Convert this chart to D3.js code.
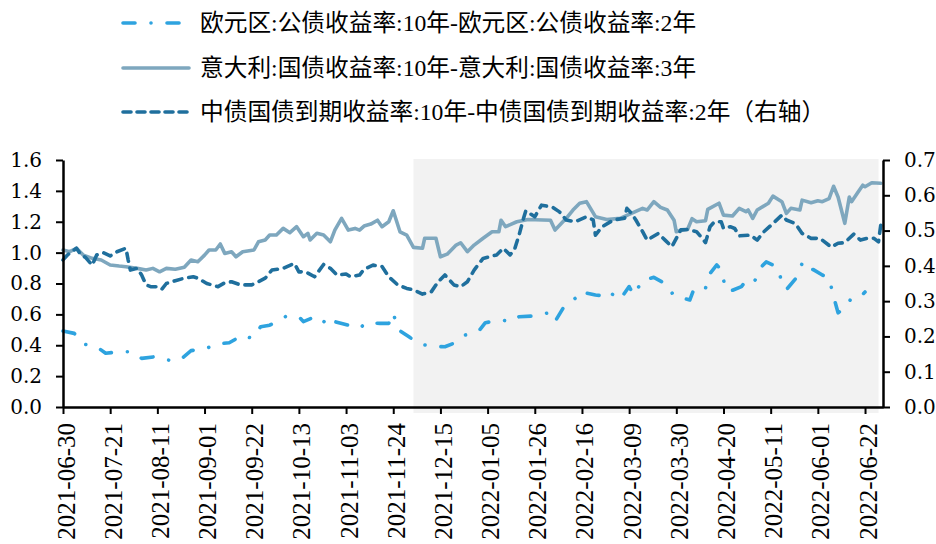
<!DOCTYPE html>
<html><head><meta charset="utf-8">
<script src="https://cdn.jsdelivr.net/npm/d3@7"></script>
<style>body{margin:0;background:#fff;} svg{display:block;}</style>
</head><body>
<svg id="chart" width="936" height="544"></svg>
<script>
// ---------- data ----------
const seriesNames = [
  "欧元区:公债收益率:10年-欧元区:公债收益率:2年",
  "意大利:国债收益率:10年-意大利:国债收益率:3年",
  "中债国债到期收益率:10年-中债国债到期收益率:2年（右轴）"
];
const tickDates = ["2021-06-30","2021-07-21","2021-08-11","2021-09-01","2021-09-22","2021-10-13","2021-11-03","2021-11-24","2021-12-15","2022-01-05","2022-01-26","2022-02-16","2022-03-09","2022-03-30","2022-04-20","2022-05-11","2022-06-01","2022-06-22"];
const leftTicks = [0,0.2,0.4,0.6,0.8,1.0,1.2,1.4,1.6];
const rightTicks = [0,0.1,0.2,0.3,0.4,0.5,0.6,0.7];
const dateDomain = ["2021-06-30","2022-06-30"];
const shadeRange = ["2021-12-03","2022-06-28"];

const euro = [["2021-06-30",0.492],["2021-07-05",0.477],["2021-07-09",0.408],["2021-07-15",0.39],["2021-07-19",0.348],["2021-07-25",0.358],["2021-07-31",0.358],["2021-08-04",0.315],["2021-08-10",0.326],["2021-08-17",0.30],["2021-08-21",0.304],["2021-08-26",0.365],["2021-09-02",0.38],["2021-09-06",0.408],["2021-09-12",0.416],["2021-09-18",0.466],["2021-09-22",0.445],["2021-09-26",0.52],["2021-09-30",0.53],["2021-10-07",0.585],["2021-10-13",0.585],["2021-10-15",0.553],["2021-10-21",0.59],["2021-10-27",0.52],["2021-10-29",0.553],["2021-11-04",0.53],["2021-11-09",0.51],["2021-11-12",0.546],["2021-11-18",0.542],["2021-11-22",0.542],["2021-11-24",0.61],["2021-11-26",0.503],["2021-12-01",0.455],["2021-12-05",0.413],["2021-12-10",0.395],["2021-12-17",0.39],["2021-12-21",0.413],["2021-12-26",0.466],["2022-01-01",0.49],["2022-01-04",0.546],["2022-01-11",0.563],["2022-01-16",0.553],["2022-01-19",0.585],["2022-01-26",0.59],["2022-02-01",0.61],["2022-02-04",0.553],["2022-02-08",0.65],["2022-02-13",0.704],["2022-02-15",0.747],["2022-02-22",0.725],["2022-02-26",0.72],["2022-02-28",0.747],["2022-03-03",0.715],["2022-03-05",0.697],["2022-03-09",0.78],["2022-03-11",0.725],["2022-03-15",0.82],["2022-03-20",0.84],["2022-03-25",0.80],["2022-03-29",0.72],["2022-04-05",0.693],["2022-04-07",0.77],["2022-04-12",0.77],["2022-04-14",0.865],["2022-04-17",0.92],["2022-04-19",0.89],["2022-04-21",0.76],["2022-04-23",0.75],["2022-04-28",0.78],["2022-05-01",0.835],["2022-05-04",0.82],["2022-05-07",0.91],["2022-05-09",0.94],["2022-05-14",0.905],["2022-05-16",0.81],["2022-05-18",0.76],["2022-05-22",0.83],["2022-05-25",0.93],["2022-05-26",0.89],["2022-05-30",0.89],["2022-06-03",0.855],["2022-06-06",0.835],["2022-06-08",0.715],["2022-06-10",0.61],["2022-06-13",0.645],["2022-06-16",0.705],["2022-06-20",0.715],["2022-06-22",0.745]];

const italy = [["2021-06-30",1.017],["2021-07-03",1.006],["2021-07-06",1.028],["2021-07-09",0.984],["2021-07-13",0.963],["2021-07-17",0.952],["2021-07-21",0.92],["2021-07-25",0.913],["2021-07-28",0.909],["2021-08-02",0.898],["2021-08-06",0.887],["2021-08-09",0.898],["2021-08-12",0.876],["2021-08-15",0.898],["2021-08-19",0.892],["2021-08-23",0.905],["2021-08-26",0.952],["2021-08-29",0.941],["2021-09-01",0.984],["2021-09-03",1.017],["2021-09-06",1.017],["2021-09-08",1.056],["2021-09-10",0.995],["2021-09-13",1.006],["2021-09-15",0.973],["2021-09-18",1.006],["2021-09-23",1.017],["2021-09-25",1.07],["2021-09-28",1.082],["2021-09-30",1.114],["2021-10-03",1.114],["2021-10-06",1.157],["2021-10-09",1.129],["2021-10-12",1.168],["2021-10-15",1.103],["2021-10-17",1.125],["2021-10-18",1.082],["2021-10-21",1.125],["2021-10-24",1.114],["2021-10-27",1.07],["2021-10-29",1.146],["2021-11-01",1.222],["2021-11-04",1.146],["2021-11-07",1.157],["2021-11-09",1.146],["2021-11-11",1.172],["2021-11-14",1.185],["2021-11-17",1.21],["2021-11-19",1.168],["2021-11-22",1.2],["2021-11-24",1.271],["2021-11-27",1.135],["2021-11-30",1.114],["2021-12-03",1.034],["2021-12-07",1.028],["2021-12-08",1.093],["2021-12-13",1.093],["2021-12-15",0.973],["2021-12-18",0.99],["2021-12-22",1.049],["2021-12-24",1.064],["2021-12-27",1.006],["2021-12-30",1.049],["2022-01-03",1.093],["2022-01-07",1.135],["2022-01-10",1.135],["2022-01-11",1.21],["2022-01-13",1.168],["2022-01-18",1.2],["2022-01-23",1.215],["2022-02-02",1.21],["2022-02-04",1.146],["2022-02-09",1.222],["2022-02-12",1.276],["2022-02-15",1.32],["2022-02-18",1.33],["2022-02-22",1.233],["2022-02-27",1.215],["2022-03-05",1.222],["2022-03-10",1.254],["2022-03-15",1.287],["2022-03-17",1.276],["2022-03-20",1.33],["2022-03-23",1.293],["2022-03-26",1.276],["2022-03-29",1.21],["2022-03-30",1.135],["2022-04-02",1.146],["2022-04-04",1.15],["2022-04-06",1.22],["2022-04-08",1.2],["2022-04-12",1.207],["2022-04-13",1.28],["2022-04-18",1.32],["2022-04-20",1.243],["2022-04-24",1.237],["2022-04-27",1.287],["2022-04-30",1.265],["2022-05-01",1.276],["2022-05-03",1.222],["2022-05-05",1.276],["2022-05-10",1.32],["2022-05-12",1.366],["2022-05-16",1.33],["2022-05-18",1.254],["2022-05-20",1.287],["2022-05-24",1.276],["2022-05-25",1.34],["2022-05-29",1.323],["2022-06-01",1.336],["2022-06-03",1.33],["2022-06-06",1.35],["2022-06-08",1.43],["2022-06-10",1.36],["2022-06-13",1.19],["2022-06-15",1.36],["2022-06-16",1.33],["2022-06-19",1.395],["2022-06-21",1.437],["2022-06-22",1.427],["2022-06-25",1.453],["2022-06-29",1.449]];

const china = [["2021-06-30",0.417],["2021-07-02",0.431],["2021-07-06",0.45],["2021-07-08",0.431],["2021-07-10",0.424],["2021-07-13",0.402],["2021-07-15",0.431],["2021-07-18",0.437],["2021-07-21",0.428],["2021-07-24",0.44],["2021-07-28",0.45],["2021-07-29",0.417],["2021-07-30",0.388],["2021-08-02",0.393],["2021-08-04",0.374],["2021-08-06",0.346],["2021-08-08",0.341],["2021-08-11",0.341],["2021-08-13",0.334],["2021-08-15",0.35],["2021-08-19",0.358],["2021-08-23",0.365],["2021-08-27",0.369],["2021-08-29",0.365],["2021-09-02",0.35],["2021-09-07",0.341],["2021-09-10",0.352],["2021-09-13",0.355],["2021-09-17",0.346],["2021-09-22",0.346],["2021-09-25",0.355],["2021-09-28",0.365],["2021-10-01",0.388],["2021-10-06",0.393],["2021-10-11",0.407],["2021-10-13",0.383],["2021-10-16",0.383],["2021-10-20",0.369],["2021-10-24",0.404],["2021-10-27",0.393],["2021-10-30",0.374],["2021-11-03",0.377],["2021-11-05",0.369],["2021-11-09",0.374],["2021-11-11",0.39],["2021-11-15",0.402],["2021-11-19",0.398],["2021-11-22",0.369],["2021-11-26",0.346],["2021-11-30",0.336],["2021-12-03",0.332],["2021-12-07",0.32],["2021-12-11",0.327],["2021-12-14",0.355],["2021-12-17",0.374],["2021-12-21",0.346],["2021-12-24",0.341],["2021-12-27",0.355],["2021-12-30",0.388],["2022-01-03",0.421],["2022-01-09",0.431],["2022-01-12",0.45],["2022-01-15",0.431],["2022-01-17",0.447],["2022-01-19",0.487],["2022-01-21",0.535],["2022-01-22",0.556],["2022-01-26",0.539],["2022-01-29",0.572],["2022-02-03",0.566],["2022-02-06",0.553],["2022-02-09",0.53],["2022-02-13",0.525],["2022-02-18",0.539],["2022-02-21",0.53],["2022-02-22",0.487],["2022-02-25",0.511],["2022-03-02",0.53],["2022-03-07",0.535],["2022-03-08",0.563],["2022-03-10",0.549],["2022-03-12",0.53],["2022-03-15",0.497],["2022-03-17",0.473],["2022-03-22",0.492],["2022-03-25",0.473],["2022-03-28",0.454],["2022-03-30",0.478],["2022-04-01",0.502],["2022-04-04",0.503],["2022-04-08",0.497],["2022-04-10",0.482],["2022-04-12",0.466],["2022-04-14",0.511],["2022-04-16",0.525],["2022-04-19",0.525],["2022-04-20",0.506],["2022-04-23",0.511],["2022-04-25",0.506],["2022-04-27",0.485],["2022-05-02",0.487],["2022-05-05",0.473],["2022-05-08",0.497],["2022-05-12",0.52],["2022-05-16",0.544],["2022-05-18",0.53],["2022-05-22",0.52],["2022-05-25",0.492],["2022-05-29",0.478],["2022-06-02",0.478],["2022-06-07",0.453],["2022-06-10",0.464],["2022-06-13",0.466],["2022-06-17",0.49],["2022-06-20",0.473],["2022-06-23",0.478],["2022-06-26",0.478],["2022-06-28",0.468],["2022-06-29",0.516]];

// ---------- drawing ----------
const parse = d3.utcParse("%Y-%m-%d");
const fmt = d3.utcFormat("%Y-%m-%d");
const svg = d3.select("#chart");
const M = {left: 63, right: 883, top: 160, bottom: 407};

const x = d3.scaleUtc().domain(dateDomain.map(parse)).range([M.left, M.right]);
const yL = d3.scaleLinear().domain([0, 1.6]).range([M.bottom, M.top]);
const yR = d3.scaleLinear().domain([0, 0.7]).range([M.bottom, M.top]);

// shaded period
svg.append("rect")
  .attr("x", x(parse(shadeRange[0])))
  .attr("y", yL(1.6) - 1)
  .attr("width", x(parse(shadeRange[1])) - x(parse(shadeRange[0])))
  .attr("height", M.bottom - yL(1.6) + 7)
  .attr("fill", "#f2f2f2");

const colors = {euro: "#2ea3df", italy: "#7ea7be", china: "#1f6f9d"};

const lineL = d3.line().x(d => x(parse(d[0]))).y(d => yL(d[1]));
const lineR = d3.line().x(d => x(parse(d[0]))).y(d => yR(d[1]));

svg.append("path").datum(italy).attr("d", lineL)
  .attr("fill", "none").attr("stroke", colors.italy).attr("stroke-width", 3.6)
  .attr("stroke-linejoin", "round").attr("stroke-linecap", "round");

svg.append("path").datum(china).attr("d", lineR)
  .attr("fill", "none").attr("stroke", colors.china).attr("stroke-width", 3.6)
  .attr("stroke-dasharray", "8,7").attr("stroke-linecap", "round").attr("stroke-linejoin", "round");

svg.append("path").datum(euro).attr("d", lineL)
  .attr("fill", "none").attr("stroke", colors.euro).attr("stroke-width", 3.6)
  .attr("stroke-dasharray", "12,16,0.01,16").attr("stroke-linecap", "round").attr("stroke-linejoin", "round");

// axes
function styleAxis(g) {
  g.select(".domain").attr("stroke", "#000").attr("stroke-width", 2.5);
  g.selectAll(".tick line").attr("stroke", "#000").attr("stroke-width", 2);
}

const gx = svg.append("g").attr("transform", `translate(0,${M.bottom})`)
  .call(d3.axisBottom(x).tickValues(tickDates.map(parse)).tickFormat(fmt).tickSize(7).tickSizeOuter(0));
styleAxis(gx);
gx.selectAll(".tick text")
  .attr("font-family", "'Liberation Serif', serif").attr("font-size", 25).attr("fill", "#000")
  .attr("transform", "rotate(-90)").attr("text-anchor", "end")
  .attr("x", -16).attr("y", 0).attr("dy", "0.44em");

const gyl = svg.append("g").attr("transform", `translate(${M.left},0)`)
  .call(d3.axisLeft(yL).tickValues(leftTicks).tickFormat(d3.format(".1f")).tickSize(7).tickPadding(14).tickSizeOuter(0));
styleAxis(gyl);
gyl.selectAll(".tick text").attr("font-family", "'DejaVu Serif', serif").attr("font-size", 20).attr("fill", "#000");

const gyr = svg.append("g").attr("transform", `translate(${M.right},0)`)
  .call(d3.axisRight(yR).tickValues(rightTicks).tickFormat(d3.format(".1f")).tickSize(7).tickPadding(14).tickSizeOuter(0));
styleAxis(gyr);
gyr.selectAll(".tick text").attr("font-family", "'DejaVu Serif', serif").attr("font-size", 20).attr("fill", "#000");

// legend
const legendRows = [
  {name: seriesNames[0], color: colors.euro, dash: "12,16,0.01,16", y: 23},
  {name: seriesNames[1], color: colors.italy, dash: null, y: 68},
  {name: seriesNames[2], color: colors.china, dash: "8,6", y: 112}
];
const lg = svg.append("g");
legendRows.forEach(r => {
  lg.append("line").attr("x1", 123).attr("x2", 189).attr("y1", r.y).attr("y2", r.y)
    .attr("stroke", r.color).attr("stroke-width", 3.6).attr("stroke-linecap", "round")
    .attr("stroke-dasharray", r.dash);
  lg.append("text").attr("x", 200).attr("y", r.y).attr("dy", "0.35em")
    .attr("font-family", "'Liberation Serif', 'Noto Sans CJK SC', serif").attr("font-size", 23.7)
    .attr("fill", "#000").text(r.name);
});
</script>
</body></html>
